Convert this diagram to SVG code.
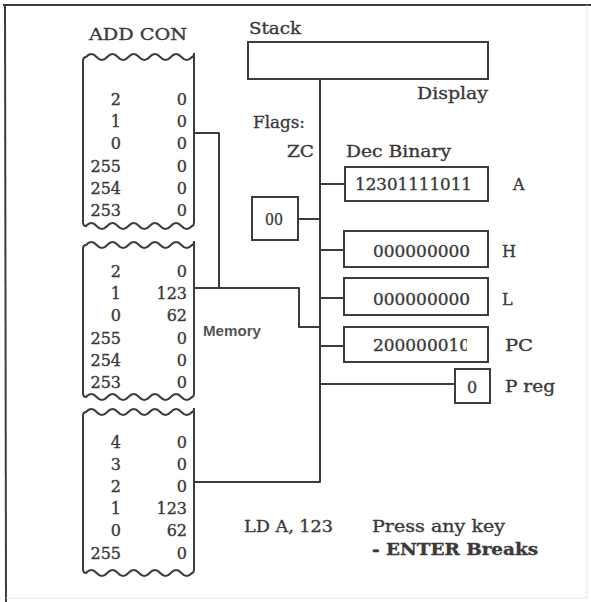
<svg xmlns="http://www.w3.org/2000/svg" width="591" height="602" viewBox="0 0 591 602">
<defs>
<style>
.ln{fill:none;stroke:#3c3c3c;stroke-width:2;stroke-linejoin:round}
.bx{fill:#fff;stroke:#3c3c3c;stroke-width:2}
.t{font-family:"DejaVu Serif","Liberation Serif",serif;fill:#3a3a3a;font-size:16px;stroke:#3a3a3a;stroke-width:0.35}
.r{text-anchor:end}
.b{font-weight:bold}
.m{font-family:"Liberation Sans",Arial,sans-serif;font-weight:bold;fill:#555;font-size:14px}
</style>
<clipPath id="pcclip"><rect x="344" y="327" width="123" height="35"/></clipPath>
</defs>
<rect width="591" height="602" fill="#fff"/>
<g id="frame">
<path d="M3,5 H591" class="ln"/>
<path d="M5,4 L6,602" class="ln"/>
<path d="M587,5 V598 M6,598 H587" fill="none" stroke="#e6e6e6" stroke-width="1"/>
</g>
<g id="connectors">
<path class="ln" d="M320,79 V482 H194"/>
<path class="ln" d="M194,133 H219 V288"/>
<path class="ln" d="M194,288 H299 V327 H320"/>
<path class="ln" d="M320,184 H345"/>
<path class="ln" d="M298,219 H320"/>
<path class="ln" d="M320,250 H344"/>
<path class="ln" d="M320,298 H344"/>
<path class="ln" d="M320,346 H344"/>
<path class="ln" d="M320,384 H455"/>
</g>
<g id="tape1">
<text class="t" x="89" y="40" font-size="19" textLength="98" lengthAdjust="spacingAndGlyphs">ADD CON</text>
<path class="bx" d="M86,57 q5.3,-6 10.6,0 t10.6,0 t10.6,0 t10.6,0 t10.6,0 t10.6,0 t10.6,0 t10.6,0 t10.6,0 t10.6,0 Q194,57 194,53 L194,222 Q194,226 192,226 q-5.3,6 -10.6,0 t-10.6,0 t-10.6,0 t-10.6,0 t-10.6,0 t-10.6,0 t-10.6,0 t-10.6,0 t-10.6,0 t-10.6,0 Q83,226 83,222 L83,61 Q83,57 86,57 Z"/>
<g class="t r">
<text x="121" y="105">2</text><text x="187" y="105">0</text>
<text x="121" y="127">1</text><text x="187" y="127">0</text>
<text x="121" y="149">0</text><text x="187" y="149">0</text>
<text x="121" y="172">255</text><text x="187" y="172">0</text>
<text x="121" y="194">254</text><text x="187" y="194">0</text>
<text x="121" y="216">253</text><text x="187" y="216">0</text>
</g>
</g>
<g id="tape2">
<path class="bx" d="M86,245 q5.3,-6 10.6,0 t10.6,0 t10.6,0 t10.6,0 t10.6,0 t10.6,0 t10.6,0 t10.6,0 t10.6,0 t10.6,0 Q194,245 194,241 L194,393 Q194,397 192,397 q-5.3,6 -10.6,0 t-10.6,0 t-10.6,0 t-10.6,0 t-10.6,0 t-10.6,0 t-10.6,0 t-10.6,0 t-10.6,0 t-10.6,0 Q83,397 83,393 L83,249 Q83,245 86,245 Z"/>
<g class="t r">
<text x="121" y="277">2</text><text x="187" y="277">0</text>
<text x="121" y="299">1</text><text x="187" y="299">123</text>
<text x="121" y="321">0</text><text x="187" y="321">62</text>
<text x="121" y="344">255</text><text x="187" y="344">0</text>
<text x="121" y="366">254</text><text x="187" y="366">0</text>
<text x="121" y="388">253</text><text x="187" y="388">0</text>
</g>
</g>
<g id="tape3">
<path class="bx" d="M86,412 q5.3,-6 10.6,0 t10.6,0 t10.6,0 t10.6,0 t10.6,0 t10.6,0 t10.6,0 t10.6,0 t10.6,0 t10.6,0 Q194,412 194,408 L194,569 Q194,573 192,573 q-5.3,6 -10.6,0 t-10.6,0 t-10.6,0 t-10.6,0 t-10.6,0 t-10.6,0 t-10.6,0 t-10.6,0 t-10.6,0 t-10.6,0 Q83,573 83,569 L83,416 Q83,412 86,412 Z"/>
<g class="t r">
<text x="121" y="448">4</text><text x="187" y="448">0</text>
<text x="121" y="470">3</text><text x="187" y="470">0</text>
<text x="121" y="492">2</text><text x="187" y="492">0</text>
<text x="121" y="514">1</text><text x="187" y="514">123</text>
<text x="121" y="536">0</text><text x="187" y="536">62</text>
<text x="121" y="559">255</text><text x="187" y="559">0</text>
</g>
</g>
<g id="memory">
<text class="m" x="203" y="336" textLength="58" lengthAdjust="spacingAndGlyphs">Memory</text>
</g>
<g id="stack">
<text class="t" x="249" y="34" font-size="18" textLength="52" lengthAdjust="spacingAndGlyphs">Stack</text>
<rect class="bx" x="248" y="42" width="240" height="37"/>
<text class="t r" x="488" y="99" font-size="18" textLength="71" lengthAdjust="spacingAndGlyphs">Display</text>
</g>
<g id="flags">
<text class="t" x="253" y="128" font-size="18" textLength="52" lengthAdjust="spacingAndGlyphs">Flags:</text>
<text class="t" x="287" y="157" font-size="18" textLength="27" lengthAdjust="spacingAndGlyphs">ZC</text>
<rect class="bx" x="252" y="197" width="46" height="43"/>
<text class="t" x="265" y="225" font-size="14" textLength="18" lengthAdjust="spacingAndGlyphs">00</text>
</g>
<text class="t" x="346" y="157" font-size="18" textLength="105" lengthAdjust="spacingAndGlyphs">Dec Binary</text>
<g id="regA">
<rect class="bx" x="345" y="167" width="143" height="34"/>
<text class="t" x="355" y="190" font-size="17" textLength="117" lengthAdjust="spacingAndGlyphs">12301111011</text>
<text class="t" x="513" y="190" font-size="18">A</text>
</g>
<g id="regH">
<rect class="bx" x="344" y="231" width="144" height="36"/>
<text class="t" x="373" y="257" font-size="17" textLength="97" lengthAdjust="spacingAndGlyphs">000000000</text>
<text class="t" x="502" y="257" font-size="18">H</text>
</g>
<g id="regL">
<rect class="bx" x="344" y="278" width="144" height="37"/>
<text class="t" x="373" y="305" font-size="17" textLength="97" lengthAdjust="spacingAndGlyphs">000000000</text>
<text class="t" x="502" y="305" font-size="18">L</text>
</g>
<g id="regPC">
<rect class="bx" x="344" y="327" width="144" height="35"/>
<text class="t" x="373" y="351" font-size="17" textLength="97" lengthAdjust="spacingAndGlyphs" clip-path="url(#pcclip)">200000010</text>
<text class="t" x="505" y="351" font-size="18" textLength="28" lengthAdjust="spacingAndGlyphs">PC</text>
</g>
<g id="regP">
<rect class="bx" x="455" y="369" width="35" height="34"/>
<text class="t" x="467" y="393" font-size="15">0</text>
<text class="t" x="505" y="392" font-size="18" textLength="50" lengthAdjust="spacingAndGlyphs">P reg</text>
</g>
<g id="status">
<text class="t" x="244" y="532" font-size="18" textLength="89" lengthAdjust="spacingAndGlyphs">LD A, 123</text>
<text class="t" x="372" y="532" font-size="18" textLength="133" lengthAdjust="spacingAndGlyphs">Press any key</text>
<text class="t b" x="372" y="555" font-size="18" textLength="166" lengthAdjust="spacingAndGlyphs">- ENTER Breaks</text>
</g>
</svg>
